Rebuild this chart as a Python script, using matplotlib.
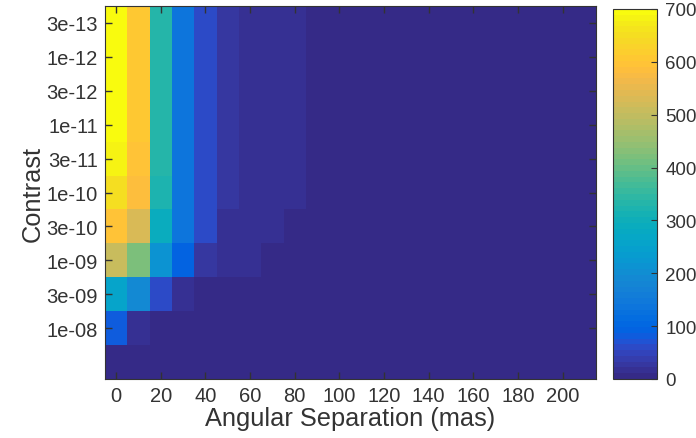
import numpy as np
import matplotlib
matplotlib.use("Agg")
import matplotlib.pyplot as plt
from matplotlib.colors import ListedColormap

# ---- data ----
separation_mas = [0, 10, 20, 30, 40, 50, 60, 70, 80, 90, 100, 110, 120, 130, 140,
                  150, 160, 170, 180, 190, 200, 210]
contrast_labels = ["3e-13", "1e-12", "3e-12", "1e-11", "3e-11", "1e-10",
                   "3e-10", "1e-09", "3e-09", "1e-08", ""]
row_3e13 = [695, 605, 333, 140, 55, 28, 20, 15, 12, 0, 0, 0, 0, 0, 0, 0, 0, 0, 0, 0, 0, 0]
row_1e12 = [695, 605, 333, 140, 55, 28, 20, 15, 12, 0, 0, 0, 0, 0, 0, 0, 0, 0, 0, 0, 0, 0]
row_3e12 = [695, 605, 333, 140, 55, 28, 20, 15, 12, 0, 0, 0, 0, 0, 0, 0, 0, 0, 0, 0, 0, 0]
row_1e11 = [690, 605, 330, 140, 55, 28, 20, 15, 12, 0, 0, 0, 0, 0, 0, 0, 0, 0, 0, 0, 0, 0]
row_3e11 = [680, 600, 330, 138, 55, 28, 20, 15, 12, 0, 0, 0, 0, 0, 0, 0, 0, 0, 0, 0, 0, 0]
row_1e10 = [650, 588, 322, 135, 55, 28, 20, 15, 12, 0, 0, 0, 0, 0, 0, 0, 0, 0, 0, 0, 0, 0]
row_3e10 = [600, 525, 290, 135, 55, 20, 18, 15, 0, 0, 0, 0, 0, 0, 0, 0, 0, 0, 0, 0, 0, 0]
row_1e09 = [505, 420, 210, 90, 30, 15, 15, 0, 0, 0, 0, 0, 0, 0, 0, 0, 0, 0, 0, 0, 0, 0]
row_3e09 = [255, 190, 55, 15, 0, 0, 0, 0, 0, 0, 0, 0, 0, 0, 0, 0, 0, 0, 0, 0, 0, 0]
row_1e08 = [80, 20, 0, 0, 0, 0, 0, 0, 0, 0, 0, 0, 0, 0, 0, 0, 0, 0, 0, 0, 0, 0]
row_3e08 = [0, 0, 0, 0, 0, 0, 0, 0, 0, 0, 0, 0, 0, 0, 0, 0, 0, 0, 0, 0, 0, 0]
x_ticks = [0, 20, 40, 60, 80, 100, 120, 140, 160, 180, 200]
cbar_ticks = [0, 100, 200, 300, 400, 500, 600, 700]

Z = np.array([row_3e13, row_1e12, row_3e12, row_1e11, row_3e11, row_1e10,
              row_3e10, row_1e09, row_3e09, row_1e08, row_3e08], dtype=float)

# ---- parula colormap ----
parula_data = [
[0.2081,0.1663,0.5292],[0.2116,0.1898,0.5777],[0.2123,0.2138,0.6270],[0.2081,0.2386,0.6771],
[0.1959,0.2645,0.7279],[0.1707,0.2919,0.7792],[0.1253,0.3242,0.8303],[0.0591,0.3598,0.8683],
[0.0117,0.3875,0.8820],[0.0060,0.4086,0.8828],[0.0165,0.4266,0.8786],[0.0329,0.4430,0.8720],
[0.0498,0.4586,0.8641],[0.0629,0.4737,0.8554],[0.0723,0.4887,0.8467],[0.0779,0.5040,0.8384],
[0.0793,0.5200,0.8312],[0.0749,0.5375,0.8263],[0.0641,0.5570,0.8240],[0.0488,0.5772,0.8228],
[0.0343,0.5966,0.8199],[0.0265,0.6137,0.8135],[0.0239,0.6287,0.8038],[0.0231,0.6418,0.7913],
[0.0228,0.6535,0.7768],[0.0267,0.6642,0.7607],[0.0384,0.6743,0.7436],[0.0590,0.6838,0.7254],
[0.0843,0.6928,0.7062],[0.1133,0.7015,0.6859],[0.1453,0.7098,0.6646],[0.1801,0.7177,0.6424],
[0.2178,0.7250,0.6193],[0.2586,0.7317,0.5954],[0.3022,0.7376,0.5712],[0.3482,0.7424,0.5473],
[0.3953,0.7459,0.5244],[0.4420,0.7481,0.5033],[0.4871,0.7491,0.4840],[0.5300,0.7491,0.4661],
[0.5709,0.7485,0.4494],[0.6099,0.7473,0.4337],[0.6473,0.7456,0.4188],[0.6834,0.7435,0.4044],
[0.7184,0.7411,0.3905],[0.7525,0.7384,0.3768],[0.7858,0.7356,0.3633],[0.8185,0.7327,0.3498],
[0.8507,0.7299,0.3360],[0.8824,0.7274,0.3217],[0.9139,0.7258,0.3063],[0.9450,0.7261,0.2886],
[0.9739,0.7314,0.2666],[0.9938,0.7455,0.2403],[0.9990,0.7653,0.2164],[0.9955,0.7861,0.1967],
[0.9880,0.8066,0.1794],[0.9789,0.8271,0.1633],[0.9697,0.8481,0.1475],[0.9626,0.8705,0.1309],
[0.9589,0.8949,0.1132],[0.9598,0.9218,0.0948],[0.9661,0.9514,0.0755],[0.9763,0.9831,0.0538]]
parula = ListedColormap(parula_data, name="parula")

plt.rcParams['font.family'] = ['Liberation Sans', 'DejaVu Sans']
txt = (0.2, 0.2, 0.2)

fig = plt.figure(figsize=(6.96, 4.39), dpi=100)
ax = fig.add_axes([105/696, 59/439, 491/696, 373/439])
cax = fig.add_axes([613/696, 59/439, 44/696, 370/439])

xs = np.array(separation_mas, dtype=float)
x_edges = np.concatenate([xs - 5, [xs[-1] + 5]])
ys = np.arange(1, len(contrast_labels) + 1)
y_edges = np.concatenate([ys - 0.5, [ys[-1] + 0.5]])

mesh = ax.pcolormesh(x_edges, y_edges, Z, cmap=parula, vmin=0, vmax=700)
ax.set_xlim(x_edges[0], x_edges[-1])
ax.set_ylim(y_edges[-1], y_edges[0])

ax.set_xticks(x_ticks)
ax.set_xticklabels([str(v) for v in x_ticks])
ax.set_yticks(ys[:10])
ax.set_yticklabels(contrast_labels[:10])
ax.tick_params(direction='in', length=5, width=1, color=txt, labelcolor=txt,
               labelsize=14.5, top=True, right=True, pad=5)
for s in ax.spines.values():
    s.set_color(txt)
    s.set_linewidth(0.8)
ax.set_xlabel("Angular Separation (mas)", fontsize=18.3, color=txt, labelpad=1)
ax.set_ylabel("Contrast", fontsize=18.3, color=txt, labelpad=1)

cb = fig.colorbar(mesh, cax=cax, ticks=cbar_ticks)
cb.outline.set_edgecolor(txt)
cb.outline.set_linewidth(0.8)
cax.tick_params(direction='in', length=4, color=txt, labelcolor=txt, labelsize=13.5, pad=6)

fig.savefig("out.png", dpi=100)
